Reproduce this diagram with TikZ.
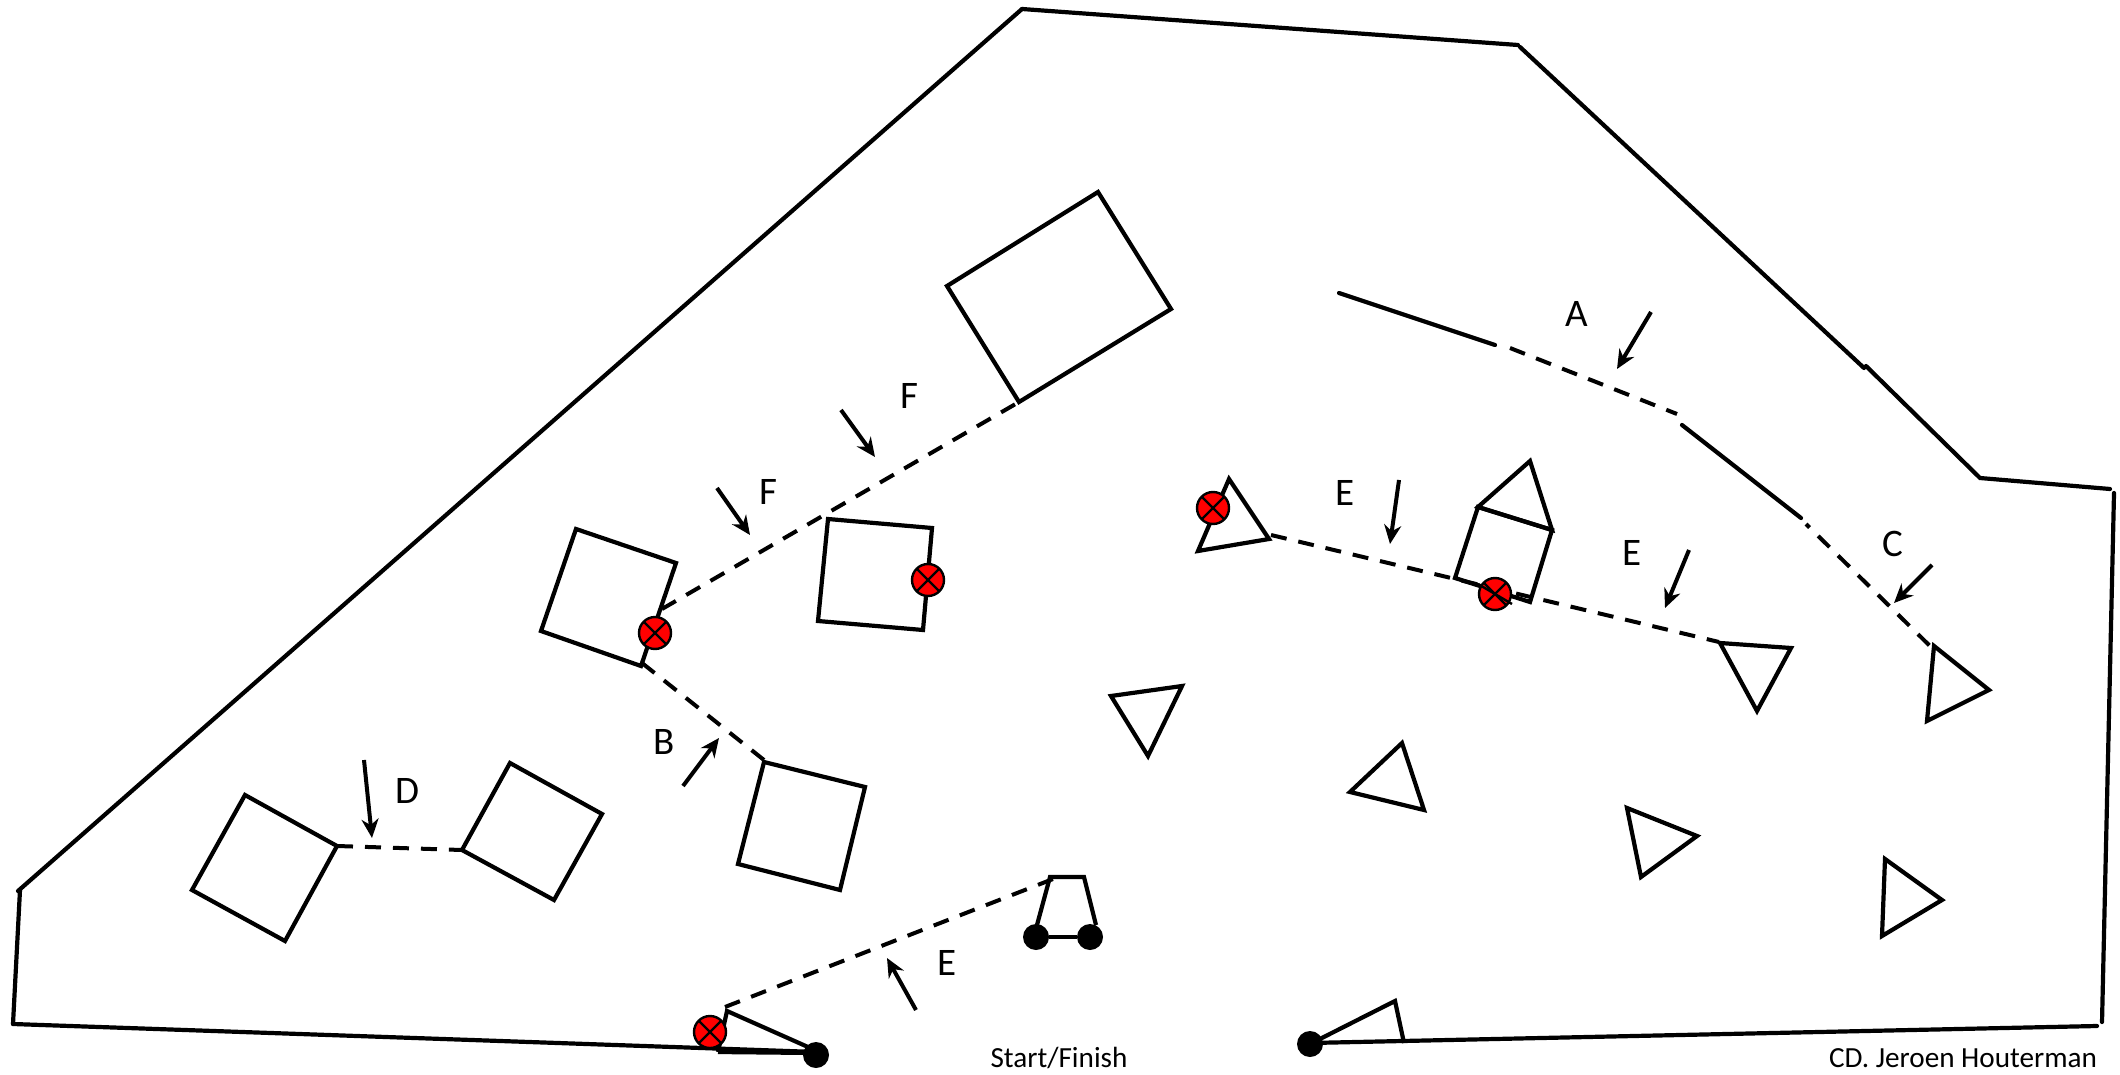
\documentclass[tikz,border=0pt]{standalone}
\usepackage{fontspec}
\setmainfont{Carlito}
\usetikzlibrary{arrows.meta}
\tikzset{
  x=0.5pt,y=-0.5pt,
  wall/.style={line width=2.1pt,line cap=round},
  obstacle/.style={line width=2.1pt,line join=miter,draw=black,fill=none},
  dashline/.style={line width=2pt,dash pattern=on 8pt off 6pt},
  pointer/.style={line width=2pt,-{Stealth[length=9.5pt,width=8.5pt]}},
  letter/.style={font=\fontsize{19.5}{20}\selectfont,inner sep=0pt},
  caption/.style={font=\fontsize{14.6}{15}\selectfont,inner sep=0pt,anchor=base},
  dot/.style={circle,fill=black,minimum size=13pt,inner sep=0pt},
  redx/.style={circle,draw=black,fill=red,line width=1.2pt,minimum size=16pt,inner sep=0pt,
    path picture={\draw[line width=1.2pt] (path picture bounding box.north west)--(path picture bounding box.south east)
      (path picture bounding box.north east)--(path picture bounding box.south west);}},
}
\begin{document}
\begin{tikzpicture}
\useasboundingbox (0,0) rectangle (2120,1075);
\fill[white] (0,0) rectangle (2120,1075);
% boundary
\draw[wall] (13,1024) -- (20,890);
\draw[wall] (18,891) -- (1022,9);
\draw[wall] (1022,9) -- (1518,45);
\draw[wall] (1520,47) -- (1864,368);
\draw[wall] (1866,366) -- (1980,478) -- (2110,489);
\draw[wall] (2114,493) -- (2102,1022);
\draw[wall] (2097,1026) -- (1310,1043);
\draw[wall] (13,1024) -- (816,1052);
% large rectangles and squares
\draw[obstacle] (1098,192) -- (1171,309) -- (1019,402) -- (947,286) -- cycle;
\draw[obstacle] (576,529) -- (676,563) -- (641,666) -- (541,631) -- cycle;
\draw[obstacle] (828,519) -- (932,528) -- (923,630) -- (818,621) -- cycle;
\draw[obstacle] (764,762) -- (865,787) -- (840,890) -- (738,864) -- cycle;
\draw[obstacle] (245,795) -- (337,846) -- (285,941) -- (192,890) -- cycle;
\draw[obstacle] (510,763) -- (602,814) -- (554,900) -- (462,850) -- cycle;
% triangles
\draw[obstacle] (1229,479) -- (1269,539) -- (1198,551) -- cycle;
\draw[obstacle] (1720,643) -- (1791,648) -- (1757,711) -- cycle;
\draw[obstacle] (1934,646) -- (1989,690) -- (1927,721) -- cycle;
\draw[obstacle] (1111,696) -- (1182,686) -- (1148,756) -- cycle;
\draw[obstacle] (1402,743) -- (1424,810) -- (1350,792) -- cycle;
\draw[obstacle] (1627,808) -- (1697,836) -- (1641,877) -- cycle;
\draw[obstacle] (1885,859) -- (1942,900) -- (1882,936) -- cycle;
% house
\draw[obstacle] (1478,507) -- (1530,461) -- (1552,530) -- cycle;
\draw[obstacle] (1478,507) -- (1552,530) -- (1530,602) -- (1455,578) -- cycle;
% start gate
\draw[obstacle] (718,1052) -- (727,1011) -- (808,1047);
\draw[obstacle] (718,1052) -- (816,1053);
\draw[obstacle] (1310,1044) -- (1395,1001) -- (1404,1043);
\node[dot] (gl) at (816,1055) {};
\node[dot] (gr) at (1310,1044) {};
% cart
\draw[obstacle] (1037,925) -- (1050,877) -- (1084,877) -- (1096,925);
\node[dot] (wl) at (1036,937) {};
\node[dot] (wr) at (1090,937) {};
\draw[obstacle] (wl) -- (wr);
% dashed gates
\coordinate (a1) at (1510,348); \coordinate (a2) at (1677,414);
\coordinate (c1) at (1806,524); \coordinate (c2) at (1932,648);
\coordinate (e1) at (1271,535); \coordinate (e2) at (1719,642);
\coordinate (f1) at (662,609);  \coordinate (f2) at (1019,402);
\coordinate (b1) at (642,663);  \coordinate (b2) at (764,760);
\coordinate (d1) at (337,846);  \coordinate (d2) at (462,850);
\coordinate (s1) at (725,1007); \coordinate (s2) at (1053,879);
\draw[wall] (1339,293) -- (1495,345);
\draw[wall] (1682,425) -- (1801,518);
\draw[dashline] (a1) -- (a2);
\draw[dashline,dash phase=5.5pt] (c1) -- (c2);
\draw[dashline] (e1) -- (e2);
\draw[dashline] (f1) -- (f2);
\draw[dashline] (b1) -- (b2);
\draw[dashline] (d1) -- (d2);
\draw[dashline] (s1) -- (s2);
% red markers
\node[redx] (x1) at (655,633) {};
\node[redx] (x2) at (928,580) {};
\node[redx] (x3) at (1213,508) {};
\node[redx] (x4) at (1495,594) {};
\node[redx] (x5) at (710,1032) {};
\draw[line width=1.2pt] (1478,584) -- (1512,604);
% arrows
\coordinate (pa1) at (1651,312); \coordinate (pa2) at (1617,369);
\coordinate (pc1) at (1932,565); \coordinate (pc2) at (1894,603);
\coordinate (pe1) at (1399,480); \coordinate (pe2) at (1390,544);
\coordinate (pe3) at (1689,550); \coordinate (pe4) at (1665,608);
\coordinate (pf1) at (717,488);  \coordinate (pf2) at (750,535);
\coordinate (pf3) at (841,410);  \coordinate (pf4) at (875,457);
\coordinate (pb1) at (683,786);  \coordinate (pb2) at (719,738);
\coordinate (pd1) at (364,760);  \coordinate (pd2) at (372,838);
\coordinate (ps1) at (916,1010); \coordinate (ps2) at (887,958);
\draw[pointer] (pa1) -- (pa2);
\draw[pointer] (pc1) -- (pc2);
\draw[pointer] (pe1) -- (pe2);
\draw[pointer] (pe3) -- (pe4);
\draw[pointer] (pf1) -- (pf2);
\draw[pointer] (pf3) -- (pf4);
\draw[pointer] (pb1) -- (pb2);
\draw[pointer] (pd1) -- (pd2);
\draw[pointer] (ps1) -- (ps2);
% letters
\node[letter] (la) at (1577,314) {A};
\node[letter] (lc) at (1893,544) {C};
\node[letter] (le1) at (1345,493) {E};
\node[letter] (le2) at (1632,553) {E};
\node[letter] (le3) at (947,963) {E};
\node[letter] (lf1) at (768,492) {F};
\node[letter] (lf2) at (909,396) {F};
\node[letter] (lb) at (664,742) {B};
\node[letter] (ld) at (407,791) {D};
\node[caption] (sf) at (1059,1067) {Start/Finish};
\node[caption] (cd) at (1963,1067) {CD. Jeroen Houterman};
\end{tikzpicture}
\end{document}
